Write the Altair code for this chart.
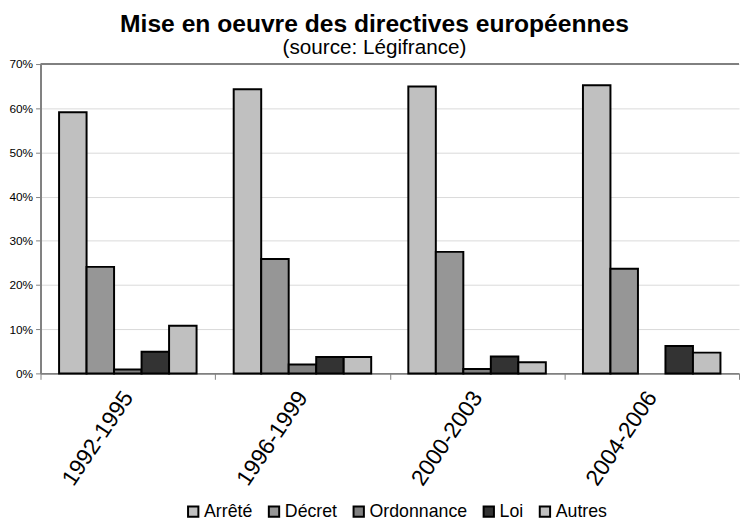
import altair as alt
import pandas as pd

periods = ["1992-1995", "1996-1999", "2000-2003", "2004-2006"]
types = ["Arrêté", "Décret", "Ordonnance", "Loi", "Autres"]
colors = ["#c0c0c0", "#969696", "#808080", "#333333", "#c0c0c0"]

arrete = [59.1, 64.3, 64.9, 65.2]
decret = [24.1, 25.9, 27.5, 23.7]
ordonnance = [0.9, 2.0, 1.0, None]
loi = [4.9, 3.7, 3.8, 6.2]
autres = [10.8, 3.7, 2.5, 4.7]

series = {"Arrêté": arrete, "Décret": decret, "Ordonnance": ordonnance, "Loi": loi, "Autres": autres}
rows = []
for t in types:
    for p, v in zip(periods, series[t]):
        if v is not None:
            rows.append({"period": p, "type": t, "value": v / 100})
df = pd.DataFrame(rows)

FONT = "Liberation Sans"

x = alt.X("period:N", sort=periods, title=None,
          scale=alt.Scale(paddingInner=0, paddingOuter=0),
          axis=alt.Axis(labelAngle=-56, labelFontSize=23, labelColor="#000000",
                        tickBand="extent", tickColor="#808080", tickSize=6,
                        domainColor="#808080", domainWidth=2, labelPadding=14,
                        labelFont=FONT))

bars = alt.Chart(df).mark_bar(stroke="#000000", strokeWidth=2).encode(
    x=x,
    xOffset=alt.XOffset("type:N", sort=types,
                        scale=alt.Scale(paddingOuter=0.675, paddingInner=0)),
    y=alt.Y("value:Q", title=None,
            scale=alt.Scale(domain=[0, 0.7], nice=False),
            axis=alt.Axis(format=".0%", values=[0, 0.1, 0.2, 0.3, 0.4, 0.5, 0.6, 0.7],
                          labelFontSize=12, labelColor="#000000", labelFont=FONT,
                          gridColor="#d9d9d9", gridWidth=1,
                          domainColor="#808080", domainWidth=2,
                          tickColor="#808080", tickSize=5, labelPadding=3)),
    color=alt.Color("type:N", sort=types,
                    scale=alt.Scale(domain=types, range=colors),
                    legend=alt.Legend(orient="none", legendX=146, legendY=445,
                                      direction="horizontal", title=None,
                                      symbolType="square", symbolSize=110,
                                      symbolStrokeColor="#000000", symbolStrokeWidth=2,
                                      labelFontSize=18, labelFont=FONT, labelColor="#000000",
                                      labelOffset=2, columnPadding=11, symbolOffset=0)),
)

top = alt.Chart(pd.DataFrame({"v": [0.7]})).mark_rule(color="#808080", strokeWidth=2).encode(
    y=alt.Y("v:Q"),
)

chart = alt.layer(bars, top).properties(
    width=709, height=314,
    padding={"left": 0, "top": 0, "right": 0, "bottom": 0},
    title=alt.TitleParams(
        text="Mise en oeuvre des directives européennes",
        subtitle="(source: Légifrance)",
        fontSize=25, fontWeight="bold", font=FONT, color="#000000",
        subtitleFontSize=21, subtitleFont=FONT, subtitleColor="#000000",
        subtitlePadding=1, anchor="middle", frame="bounds", offset=0,
    ),
).configure_view(stroke=None)

chart.save("out.html", embed_options={"renderer": "svg", "actions": False})
